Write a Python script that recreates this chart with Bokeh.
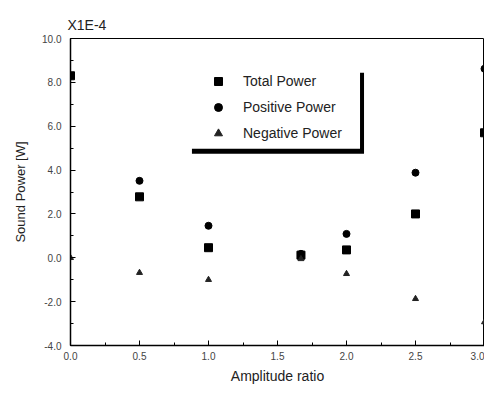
from bokeh.plotting import figure
from bokeh.models import FixedTicker, Legend, LegendItem, BoxAnnotation, PrintfTickFormatter
from bokeh.embed import file_html
from bokeh.resources import INLINE

amp = [0.0, 0.5, 1.0, 1.67, 2.0, 2.5, 3.0]
total = [8.3, 2.78, 0.46, 0.12, 0.36, 2.0, 5.7]
positive = [8.3, 3.51, 1.46, 0.18, 1.09, 3.88, 8.62]
negative = [0.0, -0.68, -1.0, -0.05, -0.73, -1.87, -2.93]
x_ticks = [0.0, 0.5, 1.0, 1.5, 2.0, 2.5, 3.0]
y_ticks = [-4.0, -2.0, 0.0, 2.0, 4.0, 6.0, 8.0, 10.0]

p = figure(width=484, height=387, output_backend="svg", toolbar_location=None,
           x_range=(0, 3), y_range=(-4, 10),
           min_border_left=70, min_border_right=0, min_border_top=38, min_border_bottom=42)
p.title.text = "X1E-4"
p.title.text_font = "Liberation Sans"
p.title.text_font_size = "14px"
p.title.text_font_style = "normal"
p.title.text_color = "#222222"
p.title.offset = -3
p.title.standoff = 11

p.grid.visible = False
p.outline_line_color = "black"
p.outline_line_width = 1
p.background_fill_color = "white"
p.border_fill_color = "white"

for ax in (p.xaxis[0], p.yaxis[0]):
    ax.axis_line_color = "black"
    ax.axis_line_width = 1.5
    ax.major_tick_in = 5
    ax.major_tick_out = 0
    ax.minor_tick_in = 3
    ax.minor_tick_out = 0
    ax.major_tick_line_color = "black"
    ax.minor_tick_line_color = "black"
    ax.major_label_text_font = "Liberation Sans"
    ax.major_label_text_font_size = "10px"
    ax.major_label_text_color = "#444444"
    ax.axis_label_text_font = "Liberation Sans"
    ax.axis_label_text_font_style = "normal"
    ax.axis_label_text_color = "#222222"
    ax.formatter = PrintfTickFormatter(format="%.1f")

p.xaxis.axis_label_text_font_size = "14px"
p.yaxis.axis_label_text_font_size = "13px"
p.xaxis.ticker = FixedTicker(ticks=x_ticks, minor_ticks=[i * 0.25 for i in range(13)])
p.yaxis.ticker = FixedTicker(ticks=y_ticks, minor_ticks=list(range(-4, 11)))
p.xaxis.axis_label = "Amplitude ratio"
p.yaxis.axis_label = "Sound Power [W]"
p.xaxis.major_label_standoff = 6
p.yaxis.major_label_standoff = 9
p.xaxis.axis_label_standoff = 5
p.yaxis.axis_label_standoff = 11

# legend shadow
p.add_layout(BoxAnnotation(left=0.88, right=2.127, top=8.44, bottom=4.74,
                           fill_color="black", fill_alpha=1, line_alpha=0))
p.add_layout(BoxAnnotation(left=0.865, right=2.098, top=8.95, bottom=4.97,
                           fill_color="white", fill_alpha=1, line_alpha=0))

r_t = p.scatter(amp, total, marker="square", size=8, color="black")
r_p = p.scatter(amp, positive, marker="circle", size=7, color="black")
r_n = p.scatter(amp, negative, marker="triangle", size=6, color="#222222")

legend = Legend(items=[LegendItem(label="Total Power", renderers=[r_t]),
                       LegendItem(label="Positive Power", renderers=[r_p]),
                       LegendItem(label="Negative Power", renderers=[r_n])],
                location=(138, 202), orientation="vertical",
                glyph_width=20, glyph_height=20, label_height=20, spacing=6,
                padding=0, margin=0, label_standoff=15,
                label_text_font="Liberation Sans", label_text_font_size="14px",
                label_text_color="#222222",
                background_fill_alpha=0, border_line_alpha=0)
p.add_layout(legend)

open("out.html", "w").write(file_html(p, INLINE))
